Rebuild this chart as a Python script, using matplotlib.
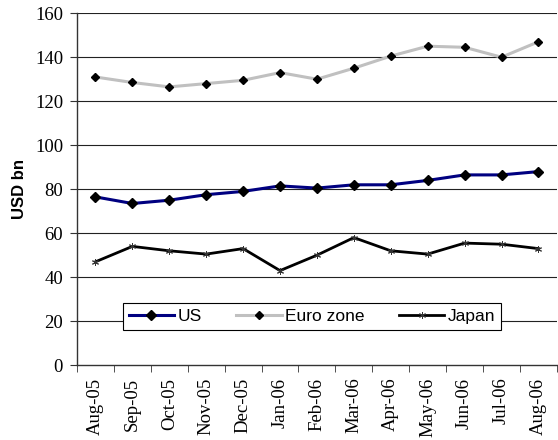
import numpy as np
import matplotlib
matplotlib.use("Agg")
import matplotlib.pyplot as plt
from matplotlib.ticker import FixedLocator

months = ["Aug-05", "Sep-05", "Oct-05", "Nov-05", "Dec-05", "Jan-06", "Feb-06",
          "Mar-06", "Apr-06", "May-06", "Jun-06", "Jul-06", "Aug-06"]
us = [76.5, 73.5, 75.0, 77.5, 79.0, 81.5, 80.5, 82.0, 82.0, 84.0, 86.5, 86.5, 88.0]
euro = [131.0, 128.5, 126.5, 128.0, 129.5, 133.0, 130.0, 135.0, 140.5, 145.0, 144.5, 140.0, 147.0]
japan = [47.0, 54.0, 52.0, 50.5, 53.0, 43.0, 50.0, 58.0, 52.0, 50.5, 55.5, 55.0, 53.0]

serif = "Liberation Serif"
sans = "Liberation Sans"
plt.rcParams["font.family"] = [serif, "DejaVu Serif"]

fig = plt.figure(figsize=(5.58, 4.4), dpi=100)
ax = fig.add_axes([0.138, 0.170, 0.860, 0.800])
x = np.arange(len(months))

ax.plot(x, us, color="#000080", lw=2.2, marker="D", ms=5.5, mfc="black", mec="black", label="US", zorder=3)
ax.plot(x, euro, color="#c0c0c0", lw=2.2, marker="D", ms=4.5, mfc="black", mec="black", label="Euro zone", zorder=3)
ax.plot(x, japan, color="black", lw=2.0, marker=(6, 2, 0), ms=5, mec="#333333", mew=0.7, label="Japan", zorder=3)

ax.set_xlim(-0.5, len(months) - 0.5)
ax.set_ylim(0, 160)
ax.set_yticks(range(0, 161, 20))
for v in range(20, 161, 20):
    ax.axhline(v, color="#222222", lw=0.8, zorder=1)

ax.set_xticks(x)
ax.set_xticklabels(months, rotation=90)
ax.xaxis.set_minor_locator(FixedLocator(np.arange(-0.5, len(months), 1.0)))
ax.tick_params(axis="x", which="major", length=0, pad=9, labelsize=13.5)
ax.tick_params(axis="x", which="minor", length=5, direction="out", color="#333333")
ax.tick_params(axis="y", length=5, direction="out", color="#333333", labelsize=13.5, pad=5)

for s in ["top", "right"]:
    ax.spines[s].set_visible(False)
for s in ["left", "bottom"]:
    ax.spines[s].set_color("#333333")
    ax.spines[s].set_linewidth(1.0)

ax.set_ylabel("USD bn", fontfamily=sans, fontweight="bold", fontsize=12, labelpad=6)

leg = ax.legend(loc="center", bbox_to_anchor=(0.49, 0.138), ncol=3, frameon=True,
                fancybox=False, edgecolor="black", framealpha=1,
                prop={"family": sans, "size": 12.5}, handlelength=2.6,
                handletextpad=0.2, columnspacing=2.0, borderpad=0.35)
leg.get_frame().set_linewidth(0.8)

fig.savefig("out.png", dpi=100)
